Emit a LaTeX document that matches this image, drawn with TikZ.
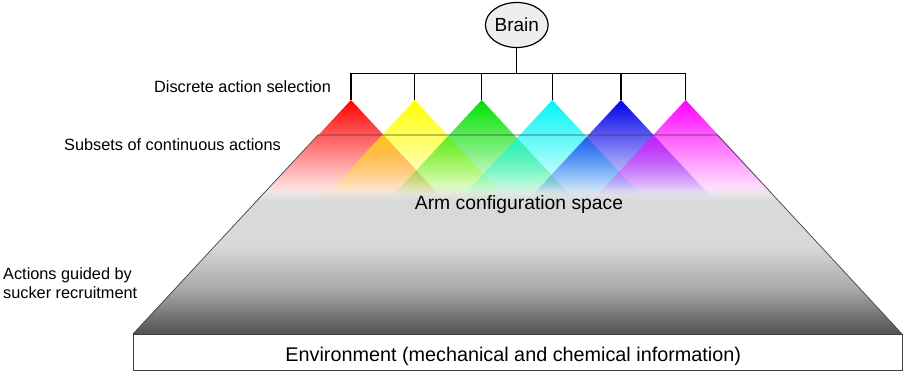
\documentclass[tikz,border=0pt]{standalone}
\usepackage{fontspec}
\setmainfont{Liberation Sans}
\usetikzlibrary{shapes.geometric,fadings}
\definecolor{cRed}{RGB}{255,0,0}
\definecolor{cYellow}{RGB}{255,255,0}
\definecolor{cGreen}{RGB}{0,225,0}
\definecolor{cCyan}{RGB}{0,245,245}
\definecolor{cBlue}{RGB}{0,0,235}
\definecolor{cMagenta}{RGB}{255,0,255}
\definecolor{greyA}{RGB}{217,217,217}
\definecolor{greyM}{RGB}{166,166,166}
\definecolor{greyB}{RGB}{80,80,80}
\definecolor{brainfill}{RGB}{238,238,238}
\tikzfading[name=fadetri, top color=transparent!0, middle color=transparent!35, bottom color=transparent!100]
\tikzfading[name=fadein, top color=transparent!100, bottom color=transparent!0]
\begin{document}
\begin{tikzpicture}[x=1pt,y=-1pt,
  lbl/.style={inner sep=0pt, anchor=base west, font=\fontsize{16.3}{19}\selectfont},
  tri/.style={path fading=fadetri},
  wire/.style={line width=1.2pt, draw=black},
  outline/.style={line width=0.7pt, draw=black!75}]
\useasboundingbox (0,0) rectangle (906,373);

% coordinates
\coordinate (a1) at (351,100);
\coordinate (a2) at (414.7,100);
\coordinate (a3) at (481.7,100);
\coordinate (a4) at (552.3,100);
\coordinate (a5) at (621,100);
\coordinate (a6) at (685.7,100);
\coordinate (tl) at (318,135);
\coordinate (tr) at (717.5,135);
\coordinate (br) at (902,334);
\coordinate (bl) at (133,334);

% coloured triangles
\foreach \a/\c in {a1/cRed,a2/cYellow,a3/cGreen,a4/cCyan,a5/cBlue,a6/cMagenta}{
  \fill[\c, tri] (\a) -- ++(-93,100) -- ++(186,0) -- cycle;
}

% grey arm configuration space
\begin{scope}
  \clip (tl) -- (tr) -- (br) -- (bl) -- cycle;
  \fill[greyA, path fading=fadein] (100,186) rectangle (950,200.5);
  \fill[greyA] (100,200) rectangle (950,246);
  \shade[top color=greyA, bottom color=greyM] (100,245.5) rectangle (950,291);
  \shade[top color=greyM, bottom color=greyB] (100,290.5) rectangle (950,334.5);
\end{scope}
\draw[outline] (bl) -- (tl) -- (tr) -- (br);

% environment
\node[outline, fill=white, minimum width=769pt, minimum height=36pt, inner sep=0pt] (env) at (517.5,352) {};
\node[inner sep=0pt, anchor=base, font=\fontsize{19.8}{23}\selectfont] (envtext) at (513.2,361) {Environment (mechanical and chemical information)};

% brain and selection wires
\node[ellipse, draw=black, line width=1.2pt, fill=brainfill, minimum width=55pt, minimum height=45pt, inner sep=0pt, font=\fontsize{19}{22}\selectfont] (brain) at (516.8,25) {Brain};
\coordinate (bar) at (516.8,73.3);
\draw[wire] (brain.south) -- (bar);
\draw[wire] (a1) -- (a1 |- bar) -- (a6 |- bar) -- (a6);
\foreach \a in {a2,a3,a4,a5}{
  \draw[wire] (\a) -- (\a |- bar);
}

% labels
\node[inner sep=0pt, anchor=base, font=\fontsize{19.3}{22}\selectfont] (arm) at (519,209) {Arm configuration space};
\node[lbl] (discrete) at (154,92.7) {Discrete action selection};
\node[lbl] (subsets) at (64,150) {Subsets of continuous actions};
\node[lbl] (guided1) at (3,279) {Actions guided by};
\node[lbl] (guided2) at (3,298.5) {sucker recruitment};
\end{tikzpicture}
\end{document}
